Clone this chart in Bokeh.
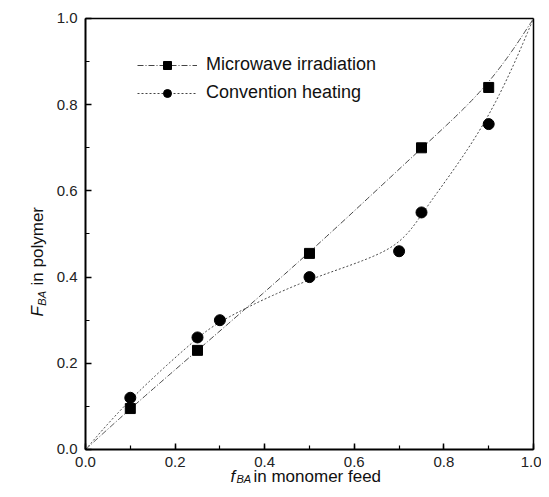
import numpy as np
from bokeh.plotting import figure
from bokeh.models import (Range1d, SingleIntervalTicker, PrintfTickFormatter, FixedTicker,
                          LinearAxis, Label, Legend, LegendItem)
from bokeh.embed import file_html
from bokeh.resources import INLINE

# ---- data ----
mw_f = [0.10, 0.25, 0.50, 0.75, 0.90]          # Microwave irradiation, f_BA
mw_F = [0.095, 0.23, 0.455, 0.70, 0.84]        # Microwave irradiation, F_BA
cv_f = [0.10, 0.25, 0.30, 0.50, 0.70, 0.75, 0.90]   # Convention heating, f_BA
cv_F = [0.12, 0.26, 0.30, 0.40, 0.46, 0.55, 0.755]  # Convention heating, F_BA
end_lo = [0.0, 0.0]   # both curves start at (0, 0)
end_hi = [1.0, 1.0]   # and end at (1, 1)
x_label_text = "in monomer feed"
y_label_text = "in polymer"


def bspline_curve(x, y, n_per=40):
    """Smooth cubic B-spline guided by the points (clamped at the ends)."""
    px = np.array([x[0], x[0]] + list(x) + [x[-1], x[-1]], float)
    py = np.array([y[0], y[0]] + list(y) + [y[-1], y[-1]], float)
    t = np.linspace(0, 1, n_per, endpoint=False)
    b0 = (1 - t) ** 3 / 6
    b1 = (3 * t**3 - 6 * t**2 + 4) / 6
    b2 = (-3 * t**3 + 3 * t**2 + 3 * t + 1) / 6
    b3 = t**3 / 6
    cx, cy = [], []
    for i in range(len(px) - 3):
        cx.append(b0 * px[i] + b1 * px[i + 1] + b2 * px[i + 2] + b3 * px[i + 3])
        cy.append(b0 * py[i] + b1 * py[i + 1] + b2 * py[i + 2] + b3 * py[i + 3])
    cx.append([px[-1]]); cy.append([py[-1]])
    return np.concatenate(cx), np.concatenate(cy)


mw_cx, mw_cy = bspline_curve([end_lo[0]] + mw_f + [end_hi[0]], [end_lo[1]] + mw_F + [end_hi[1]])
cv_cx, cv_cy = bspline_curve([end_lo[0]] + cv_f + [end_hi[0]], [end_lo[1]] + cv_F + [end_hi[1]])

W, H = 541, 489
p = figure(width=W, height=H, output_backend="svg", toolbar_location=None,
           x_range=Range1d(-0.18973, 1.01786), y_range=Range1d(-0.09281, 1.04176),
           min_border=0)
p.grid.visible = False
p.background_fill_color = "white"
p.border_fill_color = "white"
p.outline_line_color = None

for ax in (p.xaxis[0], p.yaxis[0]):
    ax.fixed_location = 0
    ax.bounds = (0, 1)
    ax.ticker = SingleIntervalTicker(interval=0.2, num_minor_ticks=2)
    ax.formatter = PrintfTickFormatter(format="%.1f")
    ax.major_tick_in = 6
    ax.major_tick_out = 0
    ax.minor_tick_in = 4
    ax.minor_tick_out = 0
    ax.axis_line_width = 2
    ax.major_tick_line_width = 1.5
    ax.minor_tick_line_width = 1.2
    ax.major_label_text_font = "Liberation Sans"
    ax.major_label_text_font_size = "15px"
    ax.major_label_text_color = "#222"
    ax.major_label_standoff = 8

for side in ("above", "right"):
    frame_edge = LinearAxis(fixed_location=1, bounds=(0, 1), ticker=FixedTicker(ticks=[]),
                            axis_line_width=1.5, major_tick_in=0, major_tick_out=0,
                            minor_tick_in=0, minor_tick_out=0, major_label_text_font_size="0px")
    p.add_layout(frame_edge, side)

mw_line = p.line(mw_cx, mw_cy, line_color="#444", line_width=1, line_dash="6 2 1 2")
cv_line = p.line(cv_cx, cv_cy, line_color="#444", line_width=1, line_dash="2 2")
mw_pts = p.scatter(mw_f, mw_F, marker="square", size=10, color="black")
cv_pts = p.scatter(cv_f, cv_F, marker="circle", size=11, color="black")

legend = Legend(items=[LegendItem(label="Microwave irradiation", renderers=[mw_line, mw_pts]),
                       LegendItem(label="Convention heating", renderers=[cv_line, cv_pts])],
                location=(137, 386), border_line_color=None, background_fill_alpha=0,
                padding=0, margin=0, glyph_width=60, glyph_height=20, label_height=20,
                spacing=7, label_standoff=9, label_text_font="Liberation Sans",
                label_text_font_size="18px", label_text_color="#111")
p.add_layout(legend)

font = "Liberation Sans"
D = dict(text_font=font, text_baseline="alphabetic", text_align="left", text_color="#111")
# x axis label: f_BA in monomer feed
xl_y = -0.0626
p.add_layout(Label(x=0.3237, y=xl_y, text="f", text_font_style="italic",
                   text_font_size="17px", **D))
p.add_layout(Label(x=0.337, y=xl_y, y_offset=-3, text="BA", text_font_style="italic",
                   text_font_size="11px", **D))
p.add_layout(Label(x=0.375, y=xl_y, text=x_label_text, text_font_size="17px", **D))
# y axis label: F_BA in polymer
yl_x = -0.1071
p.add_layout(Label(x=yl_x, y=0.3086, angle=np.pi / 2, text="F", text_font_style="italic",
                   text_font_size="17px", **D))
p.add_layout(Label(x=yl_x, y=0.3337, x_offset=4, angle=np.pi / 2, text="BA",
                   text_font_style="italic", text_font_size="11px", **D))
p.add_layout(Label(x=yl_x, y=0.3807, angle=np.pi / 2, text=y_label_text,
                   text_font_size="17px", **D))

open("out.html", "w").write(file_html(p, INLINE))
